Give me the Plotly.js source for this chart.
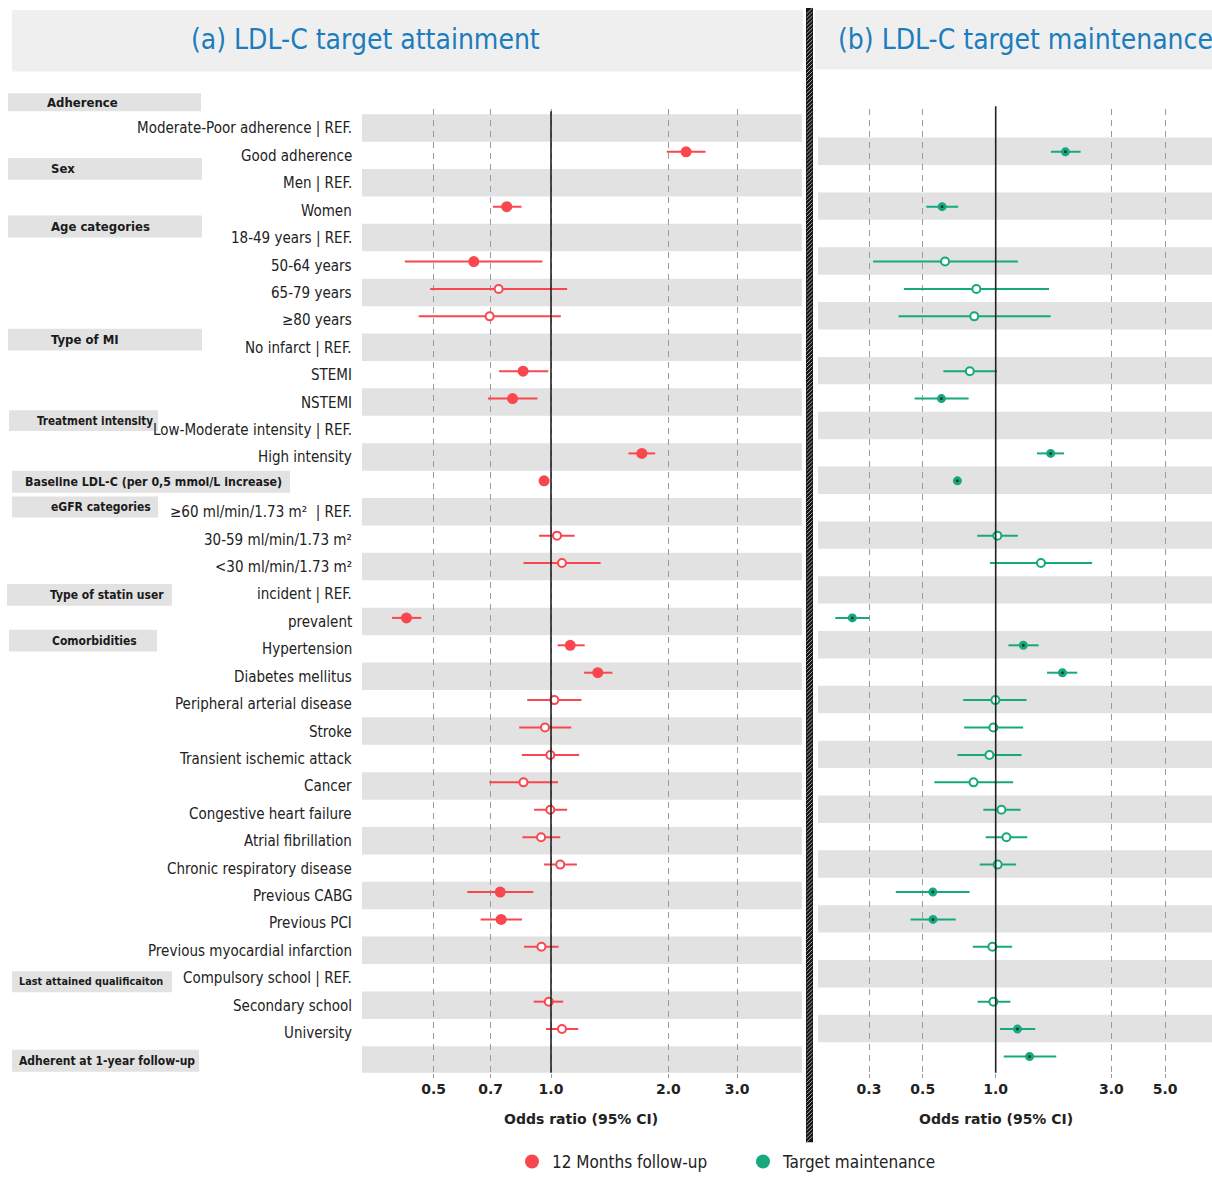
<!DOCTYPE html>
<html>
<head>
<meta charset="utf-8">
<script src="https://cdn.plot.ly/plotly-3.0.1.min.js"></script>
<style>html,body{margin:0;padding:0;background:#fff;}#chart{width:1212px;height:1180px;}</style>
</head>
<body>
<div id="chart"></div>
<script>
// ---------------- DATA ----------------
const rowLabels = [
  "Moderate-Poor adherence | REF.", "Good adherence", "Men | REF.", "Women",
  "18-49 years | REF.", "50-64 years", "65-79 years", "≥80 years",
  "No infarct | REF.", "STEMI", "NSTEMI",
  "Low-Moderate intensity | REF.", "High intensity", "",
  "≥60 ml/min/1.73 m²  | REF.", "30-59 ml/min/1.73 m²", "&lt;30 ml/min/1.73 m²",
  "incident | REF.", "prevalent",
  "Hypertension", "Diabetes mellitus", "Peripheral arterial disease", "Stroke",
  "Transient ischemic attack", "Cancer", "Congestive heart failure", "Atrial fibrillation",
  "Chronic respiratory disease", "Previous CABG", "Previous PCI", "Previous myocardial infarction",
  "Compulsory school | REF.", "Secondary school", "University", ""
];
const groupHeaders = [
  "Adherence", "Sex", "Age categories", "Type of MI", "Treatment intensity",
  "Baseline LDL-C (per 0,5 mmol/L increase)", "eGFR categories", "Type of statin user",
  "Comorbidities", "Last attained qualificaiton", "Adherent at 1-year follow-up"
];
// (a) LDL-C target attainment (12 months follow-up)
const attainOR = [null, 2.22, null, 0.77, null, 0.634, 0.734, 0.696, null, 0.848, 0.797, null, 1.71, 0.96,
  null, 1.036, 1.067, null, 0.426, 1.12, 1.318, 1.02, 0.965, 0.996, 0.85, 0.996, 0.943, 1.056, 0.741, 0.745, 0.945,
  null, 0.987, 1.067, null];
const attainLo = [null, 1.98, null, 0.71, null, 0.422, 0.49, 0.458, null, 0.736, 0.689, null, 1.58, 0.955,
  null, 0.932, 0.85, null, 0.391, 1.04, 1.216, 0.869, 0.829, 0.842, 0.695, 0.905, 0.845, 0.96, 0.61, 0.66, 0.853,
  null, 0.903, 0.971, null];
const attainHi = [null, 2.49, null, 0.84, null, 0.95, 1.10, 1.06, null, 0.984, 0.923, null, 1.85, 0.965,
  null, 1.15, 1.34, null, 0.465, 1.22, 1.437, 1.197, 1.127, 1.181, 1.042, 1.10, 1.056, 1.165, 0.901, 0.843, 1.046,
  null, 1.075, 1.174, null];
// (b) LDL-C target maintenance
const maintOR = [null, 1.94, null, 0.601, null, 0.618, 0.832, 0.816, null, 0.782, 0.597, null, 1.686, 0.695,
  null, 1.016, 1.537, null, 0.256, 1.30, 1.885, 0.997, 0.978, 0.942, 0.81, 1.056, 1.107, 1.019, 0.55, 0.551, 0.969,
  null, 0.978, 1.23, 1.38];
const maintLo = [null, 1.69, null, 0.517, null, 0.312, 0.418, 0.397, null, 0.608, 0.463, null, 1.48, 0.69,
  null, 0.839, 0.947, null, 0.2176, 1.129, 1.628, 0.734, 0.741, 0.695, 0.558, 0.889, 0.909, 0.859, 0.387, 0.445, 0.805,
  null, 0.842, 1.042, 1.079];
const maintHi = [null, 2.24, null, 0.70, null, 1.234, 1.66, 1.686, null, 1.013, 0.773, null, 1.915, 0.70,
  null, 1.234, 2.50, null, 0.301, 1.503, 2.17, 1.34, 1.298, 1.278, 1.18, 1.266, 1.349, 1.214, 0.78, 0.684, 1.169,
  null, 1.15, 1.456, 1.778];
const tickValsA = [0.5, 0.7, 1.0, 2.0, 3.0];
const tickTextA = ["0.5", "0.7", "1.0", "2.0", "3.0"];
const tickValsB = [0.3, 0.5, 1.0, 3.0, 5.0];
const tickTextB = ["0.3", "0.5", "1.0", "3.0", "5.0"];
const legendNames = ["12 Months follow-up", "Target maintenance"];

// ---------------- STYLE / LAYOUT ----------------
const W = 1212, H = 1180;
const px = x => x / W, py = y => 1 - y / H;
const RED = "#f9464f", GREEN = "#16a97c", DARK = "#1b3448";
const NARROW = "DejaVu Sans Condensed, Liberation Sans Narrow, sans-serif";
const BOLDF = "DejaVu Sans, Verdana, sans-serif";
const rows = rowLabels.map((_, i) => i + 1);

function split(orA, loA, hiA) {
  const f = {x: [], y: [], p: [], m: []}, h = {x: [], y: [], p: [], m: []};
  orA.forEach((v, i) => {
    if (v === null) return;
    const sig = loA[i] > 1 || hiA[i] < 1;
    const t = sig ? f : h;
    t.x.push(v); t.y.push(rows[i]); t.p.push(hiA[i] - v); t.m.push(v - loA[i]);
  });
  return [f, h];
}
const [aF, aH] = split(attainOR, attainLo, attainHi);
const [bF, bH] = split(maintOR, maintLo, maintHi);
function err(s, c) { return {type: "data", symmetric: false, array: s.p, arrayminus: s.m, color: c, thickness: 2, width: 0}; }

const traces = [
  {x: aF.x, y: aF.y, xaxis: "x", yaxis: "y", mode: "markers", type: "scatter", showlegend: false,
   error_x: err(aF, RED), marker: {color: RED, size: 11}},
  {x: aH.x, y: aH.y, xaxis: "x", yaxis: "y", mode: "markers", type: "scatter", showlegend: false,
   error_x: err(aH, RED), marker: {color: "#fff", size: 8, line: {color: RED, width: 2}}},
  {x: bF.x, y: bF.y, xaxis: "x2", yaxis: "y", mode: "markers", type: "scatter", showlegend: false,
   error_x: err(bF, GREEN), marker: {color: DARK, size: 6, line: {color: GREEN, width: 3}}},
  {x: bH.x, y: bH.y, xaxis: "x2", yaxis: "y", mode: "markers", type: "scatter", showlegend: false,
   error_x: err(bH, GREEN), marker: {color: "#fff", size: 8, line: {color: GREEN, width: 2}}},
  {x: [null], y: [null], xaxis: "x", yaxis: "y", mode: "markers", type: "scatter", name: legendNames[0],
   marker: {color: RED, size: 14}},
  {x: [null], y: [null], xaxis: "x", yaxis: "y", mode: "markers", type: "scatter", name: legendNames[1],
   marker: {color: GREEN, size: 14}}
];

const yTop = 110, yBot = 1080;
const rowPx0 = 125.3, rowPitch = 27.6;
const yRange = [1 + (yBot - rowPx0) / rowPitch, 1 + (yTop - rowPx0) / rowPitch];

const shapes = [];
// title bands
shapes.push({type: "rect", xref: "paper", yref: "paper", x0: px(12), x1: px(803), y0: py(72), y1: py(10),
  fillcolor: "#efefef", line: {width: 0}, layer: "below"});
shapes.push({type: "rect", xref: "paper", yref: "paper", x0: px(815), x1: px(1212), y0: py(70), y1: py(10),
  fillcolor: "#efefef", line: {width: 0}, layer: "below"});
// alternating row bands
rows.forEach(r => {
  if (r % 2 === 1) shapes.push({type: "rect", xref: "x domain", yref: "y", x0: 0, x1: 1, y0: r - 0.373, y1: r + 0.63,
    fillcolor: "#e2e2e2", line: {width: 0}, layer: "below"});
  else shapes.push({type: "rect", xref: "x2 domain", yref: "y", x0: 0, x1: 1, y0: r - 0.52, y1: r + 0.48,
    fillcolor: "#e2e2e2", line: {width: 0}, layer: "below"});
});
// reference lines at OR = 1
shapes.push({type: "line", xref: "x", yref: "paper", x0: 1, x1: 1, y0: py(yBot), y1: py(112), line: {color: "#222", width: 1.6}});
shapes.push({type: "line", xref: "x2", yref: "paper", x0: 1, x1: 1, y0: py(yBot), y1: py(107), line: {color: "#222", width: 1.6}});
// hatched separator
shapes.push({type: "rect", xref: "paper", yref: "paper", x0: px(806), x1: px(813), y0: py(1150), y1: py(8),
  fillcolor: "#151515", line: {width: 0}});
for (let y = 8; y < 1146; y += 4) {
  shapes.push({type: "line", xref: "paper", yref: "paper", x0: px(806.5), x1: px(812.5), y0: py(y + 6), y1: py(y),
    line: {color: "#a8a8a8", width: 1}});
}
// group header boxes  [x0, x1, y0, y1, textX, fontSize]
const headerGeom = [
  [8, 201, 94, 112, 45, 13], [8, 202, 159, 181, 49, 13], [8, 202, 217, 239, 49, 13], [8, 202, 331, 353, 49, 13],
  [9, 158, 413, 434, 35, 11.6], [12, 290, 474, 496, 23, 12.3], [12, 158, 500, 521, 49, 12], [7, 172, 588, 610, 48, 12],
  [9, 157, 634, 656, 50, 12], [12, 172, 978, 999, 17, 10.8], [12, 199, 1057, 1079, 17, 12]
];
const annotations = [];
groupHeaders.forEach((t, i) => {
  const g = headerGeom[i];
  shapes.push({type: "rect", xref: "paper", yref: "paper", x0: px(g[0]), x1: px(g[1]), y0: py(g[3]), y1: py(g[2]),
    fillcolor: "#e2e2e2", line: {width: 0}, layer: "below"});
  annotations.push({xref: "paper", yref: "paper", x: px(g[4]), y: py((g[2] + g[3]) / 2), xanchor: "left", yanchor: "middle",
    text: t, showarrow: false, font: {family: NARROW, size: g[5], color: "#1a1a1a", weight: "bold"}});
});
// row labels
rowLabels.forEach((t, i) => {
  if (!t) return;
  annotations.push({xref: "paper", yref: "y", x: px(354), y: rows[i], yshift: -4, xanchor: "right", yanchor: "middle",
    text: t, showarrow: false, font: {family: NARROW, size: 15, color: "#222"}});
});
// titles
annotations.push({xref: "paper", yref: "paper", x: px(365), y: py(40), xanchor: "center", yanchor: "middle",
  text: "(a) LDL-C target attainment", showarrow: false, font: {family: NARROW, size: 28, color: "#1b7dbd"}});
annotations.push({xref: "paper", yref: "paper", x: px(836), y: py(40), xanchor: "left", yanchor: "middle",
  text: "(b) LDL-C target maintenance", showarrow: false, font: {family: NARROW, size: 28, color: "#1b7dbd"}});
// axis titles
annotations.push({xref: "paper", yref: "paper", x: px(581), y: py(1127), xanchor: "center", yanchor: "middle",
  text: "Odds ratio (95% CI)", showarrow: false, font: {family: BOLDF, size: 14, color: "#222", weight: "bold"}});
annotations.push({xref: "paper", yref: "paper", x: px(996), y: py(1127), xanchor: "center", yanchor: "middle",
  text: "Odds ratio (95% CI)", showarrow: false, font: {family: BOLDF, size: 14, color: "#222", weight: "bold"}});

const axCommon = {type: "log", showgrid: true, gridcolor: "#9a9a9a", griddash: "6px,5px", gridwidth: 1,
  zeroline: false, showline: false, ticks: "outside", ticklen: 4, tickcolor: "#999",
  tickfont: {family: BOLDF, size: 14, color: "#222", weight: "bold"}, fixedrange: true, anchor: "y"};

const layout = {
  width: W, height: H, margin: {l: 0, r: 0, t: 0, b: 0},
  paper_bgcolor: "#fff", plot_bgcolor: "rgba(0,0,0,0)",
  xaxis: Object.assign({}, axCommon, {domain: [px(362), px(802)],
    range: [(362 - 551) / 390, (802 - 551) / 390], tickvals: tickValsA, ticktext: tickTextA}),
  xaxis2: Object.assign({}, axCommon, {domain: [px(818), 1],
    range: [(818 - 995.7) / 242.3, (1212 - 995.7) / 242.3], tickvals: tickValsB, ticktext: tickTextB}),
  yaxis: {domain: [py(yBot), py(yTop)], range: yRange, showticklabels: false, showgrid: false, zeroline: false,
    showline: false, ticks: "", fixedrange: true},
  showlegend: true,
  legend: {orientation: "h", x: px(512), xanchor: "left", y: py(1170), yanchor: "middle",
    font: {family: NARROW, size: 17, color: "#222"}, entrywidth: 186, entrywidthmode: "pixels",
    bgcolor: "rgba(0,0,0,0)", itemclick: false, itemdoubleclick: false},
  shapes: shapes, annotations: annotations
};

Plotly.newPlot("chart", traces, layout, {displayModeBar: false, staticPlot: true});
</script>
</body>
</html>
